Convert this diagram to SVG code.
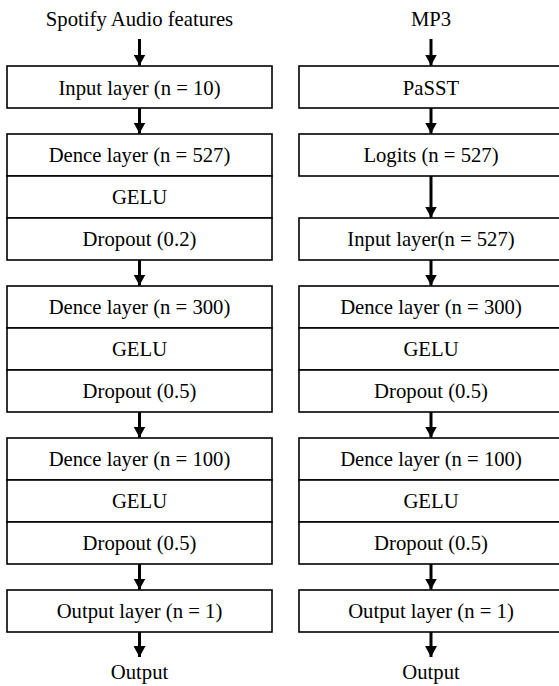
<svg xmlns="http://www.w3.org/2000/svg" width="559" height="686" viewBox="0 0 559 686">
<style>
.box{fill:#fff;stroke:#000;stroke-width:1.6}
.t{font-family:'Liberation Serif','Tinos','Times New Roman',serif;font-size:20.7px;fill:#000;text-anchor:middle}
.c{stroke:#000;stroke-width:3;fill:none}
</style>
<defs>
<marker id="ah" viewBox="0 0 11 12" refX="11" refY="6" markerWidth="11" markerHeight="12" orient="auto" markerUnits="userSpaceOnUse">
<path d="M0,0 L11,6 L0,12 Z" fill="#000"/>
</marker>
</defs>
<rect width="559" height="686" fill="#fff"/>
<g id="connectors">
<line class="c" x1="139.5" y1="39" x2="139.5" y2="65.5" marker-end="url(#ah)"/>
<line class="c" x1="139.5" y1="108" x2="139.5" y2="133.5" marker-end="url(#ah)"/>
<line class="c" x1="139.5" y1="260" x2="139.5" y2="285.5" marker-end="url(#ah)"/>
<line class="c" x1="139.5" y1="412" x2="139.5" y2="437.5" marker-end="url(#ah)"/>
<line class="c" x1="139.5" y1="564" x2="139.5" y2="589.5" marker-end="url(#ah)"/>
<line class="c" x1="139.5" y1="632" x2="139.5" y2="657" marker-end="url(#ah)"/>
<line class="c" x1="431" y1="39" x2="431" y2="65.5" marker-end="url(#ah)"/>
<line class="c" x1="431" y1="108" x2="431" y2="133.5" marker-end="url(#ah)"/>
<line class="c" x1="431" y1="176" x2="431" y2="217.5" marker-end="url(#ah)"/>
<line class="c" x1="431" y1="260" x2="431" y2="285.5" marker-end="url(#ah)"/>
<line class="c" x1="431" y1="412" x2="431" y2="437.5" marker-end="url(#ah)"/>
<line class="c" x1="431" y1="564" x2="431" y2="589.5" marker-end="url(#ah)"/>
<line class="c" x1="431" y1="632" x2="431" y2="657" marker-end="url(#ah)"/>
</g>
<g id="left-title"><text class="t" x="139.5" y="26">Spotify Audio features</text></g>
<g id="left-input"><rect class="box" x="7" y="66" width="265" height="42"/><text class="t" x="139.5" y="94.5">Input layer (n = 10)</text></g>
<g id="left-dense1"><rect class="box" x="7" y="134" width="265" height="42"/><text class="t" x="139.5" y="162">Dence layer (n = 527)</text></g>
<g id="left-gelu1"><rect class="box" x="7" y="176" width="265" height="42"/><text class="t" x="139.5" y="204">GELU</text></g>
<g id="left-drop1"><rect class="box" x="7" y="218" width="265" height="42"/><text class="t" x="139.5" y="246">Dropout (0.2)</text></g>
<g id="left-dense2"><rect class="box" x="7" y="286" width="265" height="42"/><text class="t" x="139.5" y="314">Dence layer (n = 300)</text></g>
<g id="left-gelu2"><rect class="box" x="7" y="328" width="265" height="42"/><text class="t" x="139.5" y="356">GELU</text></g>
<g id="left-drop2"><rect class="box" x="7" y="370" width="265" height="42"/><text class="t" x="139.5" y="398">Dropout (0.5)</text></g>
<g id="left-dense3"><rect class="box" x="7" y="438" width="265" height="42"/><text class="t" x="139.5" y="466">Dence layer (n = 100)</text></g>
<g id="left-gelu3"><rect class="box" x="7" y="480" width="265" height="42"/><text class="t" x="139.5" y="508">GELU</text></g>
<g id="left-drop3"><rect class="box" x="7" y="522" width="265" height="42"/><text class="t" x="139.5" y="550">Dropout (0.5)</text></g>
<g id="left-outlayer"><rect class="box" x="7" y="590" width="265" height="42"/><text class="t" x="139.5" y="618">Output layer (n = 1)</text></g>
<g id="left-output"><text class="t" x="139.5" y="679">Output</text></g>

<g id="right-title"><text class="t" x="431" y="26">MP3</text></g>
<g id="right-passt"><rect class="box" x="299" y="66" width="265" height="42"/><text class="t" x="431" y="94.5">PaSST</text></g>
<g id="right-logits"><rect class="box" x="299" y="134" width="265" height="42"/><text class="t" x="431" y="162">Logits (n = 527)</text></g>
<g id="right-input"><rect class="box" x="299" y="218" width="265" height="42"/><text class="t" x="431" y="246">Input layer(n = 527)</text></g>
<g id="right-dense2"><rect class="box" x="299" y="286" width="265" height="42"/><text class="t" x="431" y="314">Dence layer (n = 300)</text></g>
<g id="right-gelu2"><rect class="box" x="299" y="328" width="265" height="42"/><text class="t" x="431" y="356">GELU</text></g>
<g id="right-drop2"><rect class="box" x="299" y="370" width="265" height="42"/><text class="t" x="431" y="398">Dropout (0.5)</text></g>
<g id="right-dense3"><rect class="box" x="299" y="438" width="265" height="42"/><text class="t" x="431" y="466">Dence layer (n = 100)</text></g>
<g id="right-gelu3"><rect class="box" x="299" y="480" width="265" height="42"/><text class="t" x="431" y="508">GELU</text></g>
<g id="right-drop3"><rect class="box" x="299" y="522" width="265" height="42"/><text class="t" x="431" y="550">Dropout (0.5)</text></g>
<g id="right-outlayer"><rect class="box" x="299" y="590" width="265" height="42"/><text class="t" x="431" y="618">Output layer (n = 1)</text></g>
<g id="right-output"><text class="t" x="431" y="679">Output</text></g>
</svg>
